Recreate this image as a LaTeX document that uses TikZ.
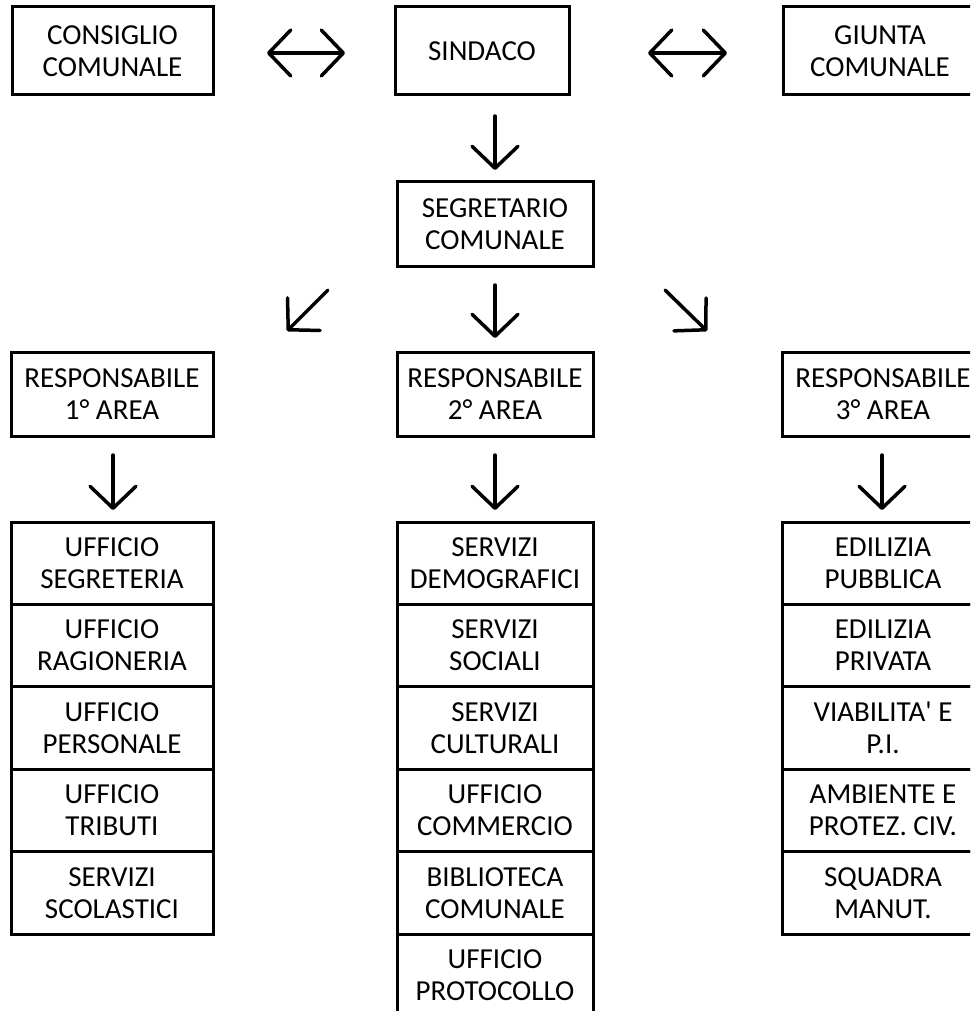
\documentclass[tikz,border=0pt]{standalone}
\usepackage{fontspec}
\newfontfamily\boxfont{Carlito}
\usetikzlibrary{arrows.meta}
\begin{document}
\begin{tikzpicture}[x=1pt,y=-1pt,
  box/.style 2 args={draw, line width=3pt, inner sep=0pt, align=center,
    font=\boxfont\fontsize{29}{32}\selectfont,
    minimum width=#1, minimum height=#2},
  cell/.style={box={#1}{82.4pt}},
  arr/.style={line width=3.5pt, line cap=round,
    -{Straight Barb[length=22pt,width=46pt,round]}},
  darr/.style={line width=3.5pt, line cap=round,
    {Straight Barb[length=22pt,width=46pt,round]}-{Straight Barb[length=22pt,width=46pt,round]}}]
\useasboundingbox (0,0) rectangle (970,1011);
\clip (0,0) rectangle (970,1011);
\fill[white] (0,0) rectangle (970,1011);
% top row
\node[box={201pt}{88pt}] (cons) at (112.5,51) {CONSIGLIO\\COMUNALE};
\node[box={174pt}{88pt}] (sind) at (482,51) {SINDACO};
\node[box={194pt}{88pt}] (giun) at (880,51) {GIUNTA\\COMUNALE};
\node[box={196pt}{84pt}] (segr) at (495,224) {SEGRETARIO\\COMUNALE};
% responsabili
\node[box={202pt}{84pt}] (r1) at (112,394) {RESPONSABILE\\1° AREA};
\node[box={196pt}{84pt}] (r2) at (495,394) {RESPONSABILE\\2° AREA};
\node[box={202pt}{84pt}] (r3) at (883,394) {RESPONSABILE\\3° AREA};
% tables
\foreach \t [count=\i from 0] in {{UFFICIO\\SEGRETERIA},{UFFICIO\\RAGIONERIA},{UFFICIO\\PERSONALE},{UFFICIO\\TRIBUTI},{SERVIZI\\SCOLASTICI}}
  \node[cell=202pt] (l\i) at (112,563.2+82.4*\i) {\t};
\foreach \t [count=\i from 0] in {{SERVIZI\\DEMOGRAFICI},{SERVIZI\\SOCIALI},{SERVIZI\\CULTURALI},{UFFICIO\\COMMERCIO},{BIBLIOTECA\\COMUNALE},{UFFICIO\\PROTOCOLLO}}
  \node[cell=196pt] (m\i) at (495,563.2+82.4*\i) {\t};
\foreach \t [count=\i from 0] in {{EDILIZIA\\PUBBLICA},{EDILIZIA\\PRIVATA},{VIABILITA\textquotesingle{} E\\P.I.},{AMBIENTE E\\PROTEZ. CIV.},{SQUADRA\\MANUT.}}
  \node[cell=202pt] (q\i) at (883,563.2+82.4*\i) {\t};
% arrow end points
\coordinate (h1a) at (267,53); \coordinate (h1b) at (345,53);
\coordinate (h2a) at (648,53); \coordinate (h2b) at (727,53);
\coordinate (d1a) at (495,116); \coordinate (d1b) at (495,170);
\coordinate (swa) at (328,290); \coordinate (swb) at (287,331);
\coordinate (d2a) at (495,285); \coordinate (d2b) at (495,338);
\coordinate (sea) at (665,290); \coordinate (seb) at (707,331);
\coordinate (l3a) at (113,455); \coordinate (l3b) at (113,510);
\coordinate (m3a) at (495,455); \coordinate (m3b) at (495,510);
\coordinate (r3a) at (882,455); \coordinate (r3b) at (882,510);
% arrows
\draw[darr] (h1a) -- (h1b);
\draw[darr] (h2a) -- (h2b);
\draw[arr] (d1a) -- (d1b);
\draw[arr] (swa) -- (swb);
\draw[arr] (d2a) -- (d2b);
\draw[arr] (sea) -- (seb);
\draw[arr] (l3a) -- (l3b);
\draw[arr] (m3a) -- (m3b);
\draw[arr] (r3a) -- (r3b);
\end{tikzpicture}
\end{document}
